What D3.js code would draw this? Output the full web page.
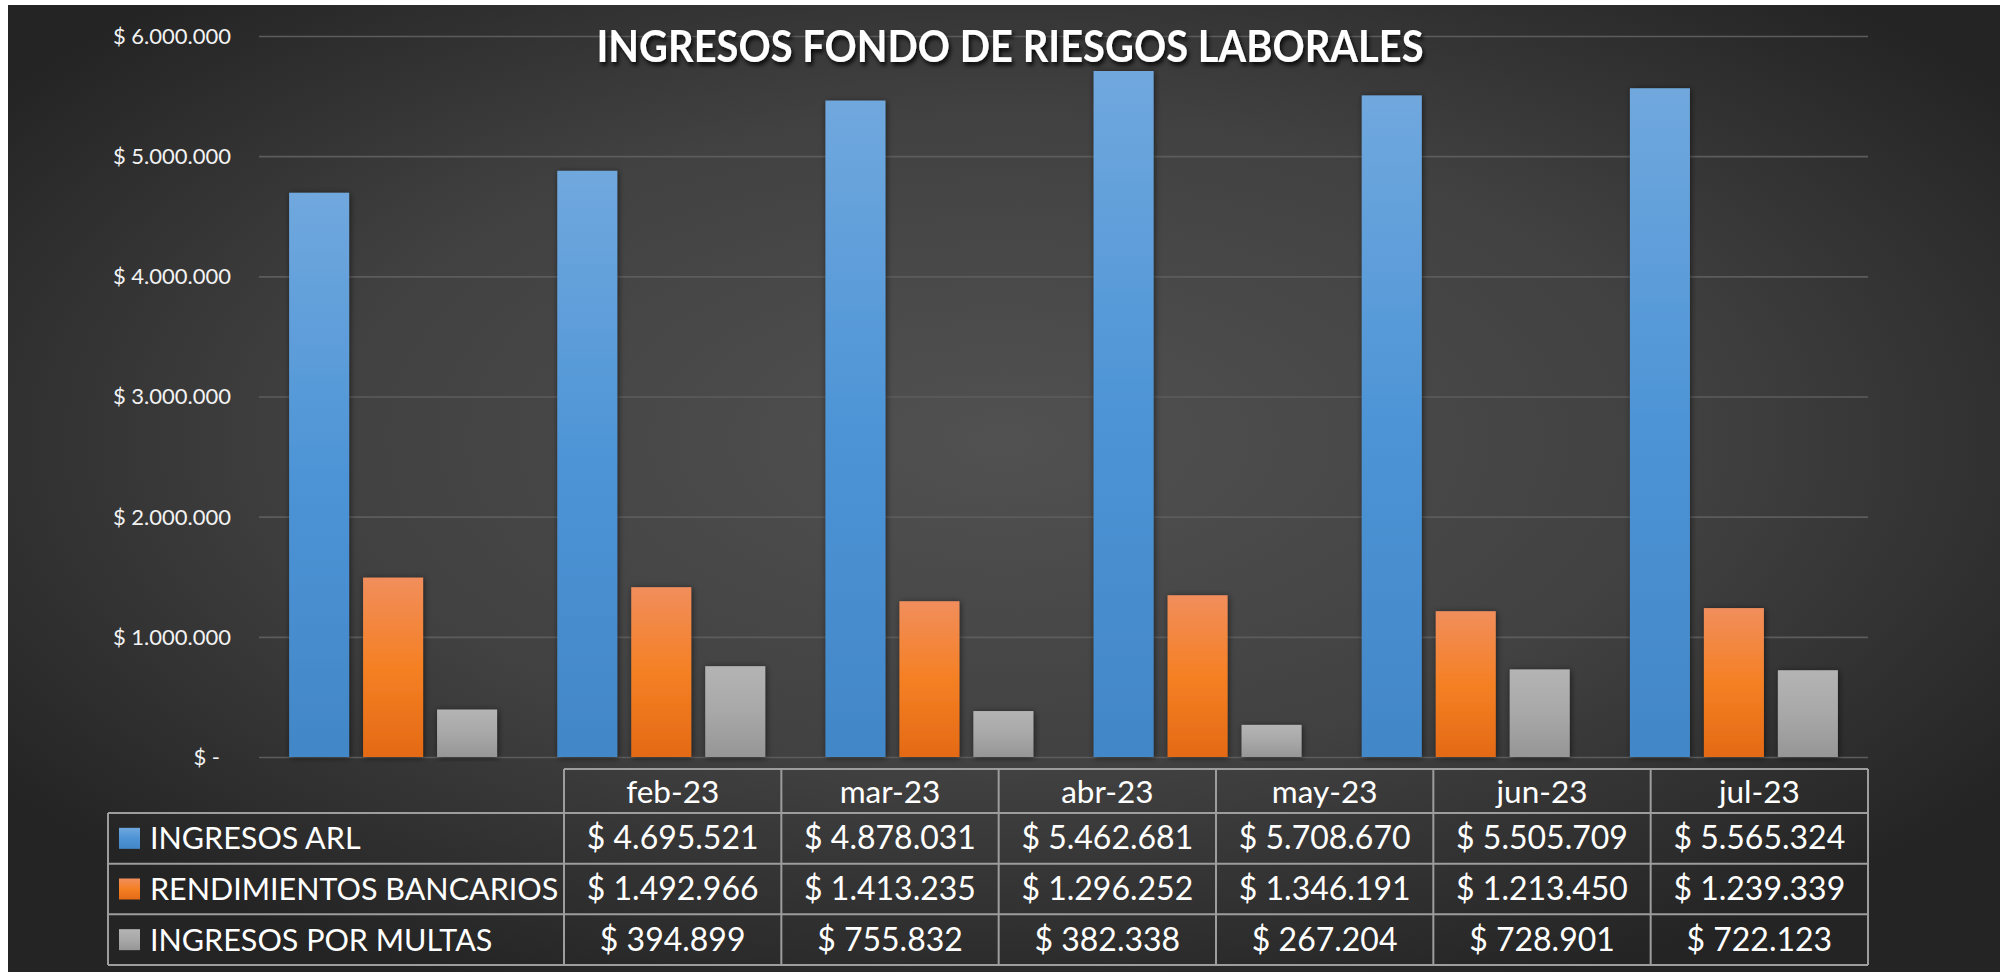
<!DOCTYPE html>
<html>
<head>
<meta charset="utf-8">
<script src="https://cdn.jsdelivr.net/npm/d3@7/dist/d3.min.js"></script>
<style>
  html, body { margin: 0; padding: 0; background: #ffffff; overflow: hidden; }
  svg { display: block; }
  text { font-family: Lato, "Open Sans", sans-serif; }
</style>
</head>
<body>
<svg id="chart" width="2000" height="972"></svg>
<script>
// ---------------- DATA ----------------
const title = "INGRESOS FONDO DE RIESGOS LABORALES";
const months = ["feb-23", "mar-23", "abr-23", "may-23", "jun-23", "jul-23"];
const seriesNames = ["INGRESOS ARL", "RENDIMIENTOS BANCARIOS", "INGRESOS POR MULTAS"];
const ingresosARL = [4695521, 4878031, 5462681, 5708670, 5505709, 5565324];
const rendimientosBancarios = [1492966, 1413235, 1296252, 1346191, 1213450, 1239339];
const ingresosPorMultas = [394899, 755832, 382338, 267204, 728901, 722123];
const yTickValues = [0, 1000000, 2000000, 3000000, 4000000, 5000000, 6000000];

const seriesValues = [ingresosARL, rendimientosBancarios, ingresosPorMultas];

// ---------------- SETUP ----------------
const W = 2000, H = 972;
const svg = d3.select("#chart");
const defs = svg.append("defs");

const locale = d3.formatLocale({ decimal: ",", thousands: ".", grouping: [3], currency: ["$ ", ""] });
const fmtNum = locale.format(",.0f");
const money = v => v === 0 ? "$ -\u2002" : "$ " + fmtNum(v);

// background gradient
const bg = defs.append("radialGradient").attr("id", "bgGrad")
  .attr("cx", "0.5").attr("cy", "0.45").attr("r", "0.62").attr("fx", "0.5").attr("fy", "0.45");
bg.append("stop").attr("offset", "0").attr("stop-color", "#515151");
bg.append("stop").attr("offset", "0.55").attr("stop-color", "#414141");
bg.append("stop").attr("offset", "1").attr("stop-color", "#242424");

// bar gradients
const barGrads = [
  [["0", "#70a8de"], ["0.5", "#4d94d6"], ["1", "#4287c8"]],
  [["0", "#f18e5c"], ["0.5", "#f58024"], ["1", "#e46a15"]],
  [["0", "#b4b4b4"], ["0.5", "#a8a8a8"], ["1", "#969696"]]
];
barGrads.forEach((stops, i) => {
  const g = defs.append("linearGradient").attr("id", "bar" + i)
    .attr("x1", 0).attr("y1", 0).attr("x2", 0).attr("y2", 1);
  stops.forEach(s => g.append("stop").attr("offset", s[0]).attr("stop-color", s[1]));
});

const shadow = defs.append("filter").attr("id", "barShadow")
  .attr("x", "-30%").attr("y", "-10%").attr("width", "160%").attr("height", "120%");
shadow.append("feDropShadow").attr("dx", 1).attr("dy", 1).attr("stdDeviation", 3)
  .attr("flood-color", "#000").attr("flood-opacity", 0.55);

const tshadow = defs.append("filter").attr("id", "titleShadow")
  .attr("x", "-5%").attr("y", "-30%").attr("width", "110%").attr("height", "160%");
tshadow.append("feDropShadow").attr("dx", 2).attr("dy", 3).attr("stdDeviation", 2)
  .attr("flood-color", "#000").attr("flood-opacity", 0.85);

// chart area (white strip on the left and top like the reference)
svg.append("rect").attr("x", 0).attr("y", 0).attr("width", W).attr("height", H).attr("fill", "#ffffff");
svg.append("rect").attr("x", 8).attr("y", 5).attr("width", W - 8).attr("height", H - 5).attr("fill", "url(#bgGrad)");

// ---------------- SCALES ----------------
const plotLeft = 259, plotRight = 1868, plotTop = 36, plotBottom = 757;
const x = d3.scaleBand().domain(months).range([plotLeft, plotRight]).paddingInner(0).paddingOuter(0);
const xs = d3.scaleBand().domain(seriesNames).range([0, x.bandwidth()])
  .paddingInner(0.189).paddingOuter(0.407);
const y = d3.scaleLinear().domain([0, 6000000]).range([plotBottom, plotTop]);

// gridlines + y axis labels
const yAxis = d3.axisLeft(y).tickValues(yTickValues).tickFormat(money)
  .tickSize(-(plotRight - plotLeft)).tickPadding(28);
const gy = svg.append("g").attr("transform", `translate(${plotLeft},0)`).call(yAxis);
gy.select(".domain").remove();
gy.selectAll(".tick line").attr("stroke", "#5c5c5c").attr("stroke-width", 1.6);
gy.selectAll(".tick text").attr("fill", "#f2f2f2").attr("font-size", 22)
  .attr("font-family", "Lato, sans-serif").attr("dy", "0.34em");

// bars
const barData = [];
months.forEach((m, mi) => {
  seriesNames.forEach((s, si) => barData.push({ m, s, si, v: seriesValues[si][mi] }));
});
svg.append("g").selectAll("rect").data(barData).join("rect")
  .attr("x", d => x(d.m) + xs(d.s))
  .attr("y", d => y(d.v))
  .attr("width", xs.bandwidth())
  .attr("height", d => y(0) - y(d.v))
  .attr("fill", d => `url(#bar${d.si})`)
  .attr("filter", "url(#barShadow)");

// title (slightly condensed look: taller glyphs at the same width)
const tg0 = svg.append("g").attr("transform", "translate(1010,62) scale(1,1.12)");
const tt = tg0.append("text").attr("x", 0).attr("y", 0).attr("text-anchor", "middle")
  .attr("fill", "#ffffff").attr("font-weight", 700).attr("font-size", 42)
  .attr("filter", "url(#titleShadow)").text(title);
const tw = tt.node().getComputedTextLength();
tt.attr("font-size", 42 * 827 / tw);

// ---------------- DATA TABLE ----------------
const tableLeft = 108, colStart = 564, tableRight = 1868;
const headTop = 769, rowTop = 813, tableBottom = 965;
const tx = d3.scaleBand().domain(months).range([colStart, tableRight]);
const ty = d3.scaleBand().domain(seriesNames).range([rowTop, tableBottom]);
const lineColor = "#9d9d9d";
const tg = svg.append("g");

// horizontal lines
tg.append("line").attr("x1", colStart).attr("x2", tableRight).attr("y1", headTop).attr("y2", headTop);
[rowTop, ...seriesNames.map(s => ty(s) + ty.bandwidth())].forEach(yy =>
  tg.append("line").attr("x1", tableLeft).attr("x2", tableRight).attr("y1", yy).attr("y2", yy));
// vertical lines
tg.append("line").attr("x1", tableLeft).attr("x2", tableLeft).attr("y1", rowTop).attr("y2", tableBottom);
[...months.map(m => tx(m)), tableRight].forEach(xx =>
  tg.append("line").attr("x1", xx).attr("x2", xx).attr("y1", headTop).attr("y2", tableBottom));
tg.selectAll("line").attr("stroke", lineColor).attr("stroke-width", 2);

// header
tg.selectAll("text.head").data(months).join("text").attr("class", "head")
  .attr("x", d => tx(d) + tx.bandwidth() / 2).attr("y", (headTop + rowTop) / 2 + 11.5)
  .attr("text-anchor", "middle").attr("fill", "#ffffff").attr("font-size", 31.5).text(d => d);

// legend keys and labels
seriesNames.forEach((s, si) => {
  const cy = ty(s) + ty.bandwidth() / 2;
  tg.append("rect").attr("x", 119).attr("y", cy - 10.5).attr("width", 21).attr("height", 21)
    .attr("fill", `url(#bar${si})`);
  tg.append("text").attr("x", 150).attr("y", cy + 11).attr("fill", "#ffffff")
    .attr("font-size", 30.5).text(s);
  months.forEach((m, mi) => {
    tg.append("text").attr("x", tx(m) + tx.bandwidth() / 2).attr("y", cy + 11)
      .attr("text-anchor", "middle").attr("fill", "#ffffff").attr("font-size", 32)
      .text(money(seriesValues[si][mi]));
  });
});
</script>
</body>
</html>
